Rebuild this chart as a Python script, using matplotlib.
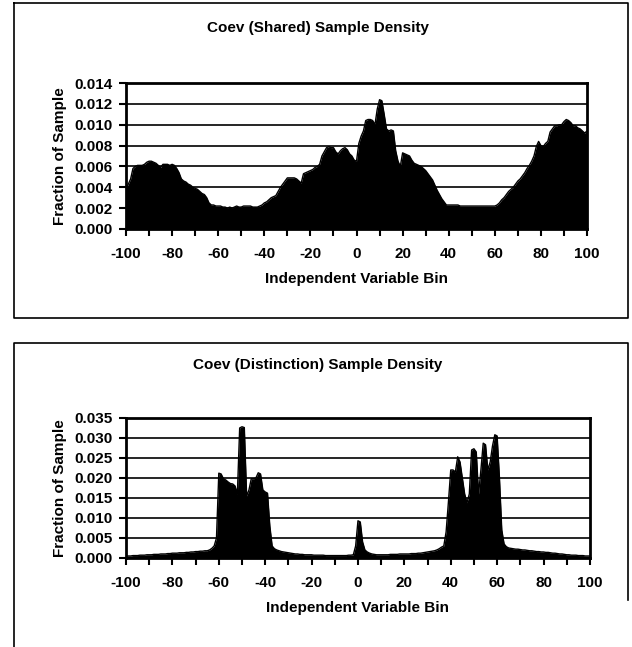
#!/usr/bin/python3
"""Plot the two Coev sample density panels (shared / distinction)."""
import numpy as np
import matplotlib
matplotlib.use("Agg")
import matplotlib.pyplot as plt
from matplotlib.lines import Line2D

# independent variable bins, one per unit
bin_v = np.arange(-100, 101)

# shared sample density, in units of 0.001
shared_v = [
    3.9, 4.3, 4.8, 5.8, 6.0, 6.1, 6.1, 6.1, 6.2, 6.4,          # -100..-91
    6.5, 6.5, 6.4, 6.3, 6.1, 5.9, 6.2, 6.2, 6.2, 6.1,          # -90..-81
    6.2, 6.1, 5.8, 5.4, 4.8, 4.6, 4.5, 4.3, 4.2, 4.0,          # -80..-71
    3.9, 3.8, 3.6, 3.4, 3.3, 3.0, 2.5, 2.3, 2.3, 2.2,          # -70..-61
    2.2, 2.2, 2.1, 2.1, 2.0, 2.1, 2.0, 2.1, 2.2, 2.1,          # -60..-51
    2.1, 2.2, 2.2, 2.2, 2.2, 2.1, 2.1, 2.1, 2.2, 2.3,          # -50..-41
    2.5, 2.6, 2.8, 3.0, 3.1, 3.2, 3.6, 4.0, 4.3, 4.6,          # -40..-31
    4.9, 4.9, 4.9, 4.9, 4.8, 4.6, 4.4, 5.3, 5.4, 5.5,          # -30..-21
    5.6, 5.7, 5.9, 6.0, 6.2, 7.0, 7.4, 7.8, 7.9, 7.8,          # -20..-11
    7.8, 7.4, 7.2, 7.5, 7.7, 7.8, 7.6, 7.2, 7.0, 6.6,          # -10..-1
    6.5, 8.2, 8.9, 9.4, 10.4, 10.5, 10.5, 10.4, 10.0, 11.5,    # 0..9
    12.4, 12.3, 11.0, 9.6, 9.4, 9.5, 9.4, 7.5, 6.5, 6.0,       # 10..19
    7.3, 7.2, 7.1, 7.0, 6.6, 6.3, 6.2, 6.1, 6.0, 5.8,          # 20..29
    5.6, 5.3, 5.0, 4.7, 4.2, 3.7, 3.3, 2.9, 2.6, 2.3,          # 30..39
    2.3, 2.3, 2.3, 2.3, 2.3, 2.2, 2.2, 2.2, 2.2, 2.2,          # 40..49
    2.2, 2.2, 2.2, 2.2, 2.2, 2.2, 2.2, 2.2, 2.2, 2.2,          # 50..59
    2.2, 2.3, 2.5, 2.8, 3.0, 3.3, 3.6, 3.8, 4.0, 4.3,          # 60..69
    4.6, 4.8, 5.1, 5.4, 5.8, 6.1, 6.5, 7.0, 7.9, 8.4,          # 70..79
    8.0, 7.9, 8.2, 8.4, 9.3, 9.6, 9.9, 9.9, 10.0, 10.0,        # 80..89
    10.3, 10.5, 10.4, 10.2, 9.9, 9.9, 9.7, 9.6, 9.4, 9.2,      # 90..99
    9.4,                                                       # 100
]

# distinction sample density, in units of 0.001
distinction_v = [
    0.5, 0.5, 0.5, 0.6, 0.6, 0.6, 0.7, 0.7, 0.7, 0.8,          # -100..-91
    0.8, 0.8, 0.9, 0.9, 0.9, 1.0, 1.0, 1.0, 1.1, 1.1,          # -90..-81
    1.2, 1.2, 1.2, 1.3, 1.3, 1.3, 1.4, 1.4, 1.5, 1.5,          # -80..-71
    1.6, 1.6, 1.7, 1.7, 1.8, 1.8, 2.0, 2.4, 3.0, 5.0,          # -70..-61
    21.2, 21.0, 19.8, 19.5, 19.0, 18.6, 18.5, 18.0, 16.0, 32.5,  # -60..-51
    32.8, 32.6, 15.5, 17.0, 19.8, 19.8, 20.0, 21.3, 21.0, 17.0,  # -50..-41
    16.5, 16.2, 8.0, 3.0, 2.3, 2.0, 1.8, 1.6, 1.5, 1.4,        # -40..-31
    1.3, 1.2, 1.1, 1.0, 1.0, 0.9, 0.9, 0.8, 0.8, 0.8,          # -30..-21
    0.8, 0.7, 0.7, 0.7, 0.7, 0.7, 0.6, 0.6, 0.6, 0.6,          # -20..-11
    0.6, 0.6, 0.6, 0.6, 0.6, 0.6, 0.7, 0.7, 0.8, 3.0,          # -10..-1
    9.3, 9.0, 4.0, 2.0, 1.5, 1.2, 1.0, 0.9, 0.8, 0.8,          # 0..9
    0.8, 0.8, 0.8, 0.8, 0.9, 0.9, 0.9, 0.9, 1.0, 1.0,          # 10..19
    1.0, 1.0, 1.0, 1.1, 1.1, 1.1, 1.2, 1.2, 1.3, 1.4,          # 20..29
    1.5, 1.6, 1.7, 1.8, 2.0, 2.3, 2.7, 3.0, 6.5, 14.0,         # 30..39
    22.0, 22.0, 21.5, 25.3, 24.0, 20.0, 16.0, 13.8, 16.0, 27.0,  # 40..49
    27.3, 26.5, 16.0, 22.0, 28.7, 28.3, 22.0, 24.0, 28.0, 30.8,  # 50..59
    30.5, 20.0, 7.0, 3.5, 2.8, 2.5, 2.4, 2.3, 2.2, 2.2,        # 60..69
    2.1, 2.0, 2.0, 1.9, 1.8, 1.8, 1.7, 1.6, 1.6, 1.5,          # 70..79
    1.5, 1.4, 1.4, 1.3, 1.2, 1.2, 1.1, 1.0, 1.0, 0.9,          # 80..89
    0.8, 0.8, 0.7, 0.7, 0.7, 0.6, 0.6, 0.6, 0.5, 0.5,          # 90..99
    0.5,                                                       # 100
]

x_tick_v = list(range(-100, 101, 10))
x_label_v = [str(t) if t % 20 == 0 else "" for t in x_tick_v]
shared_y_tick_v = [0.000, 0.002, 0.004, 0.006, 0.008, 0.010, 0.012, 0.014]
distinction_y_tick_v = [0.000, 0.005, 0.010, 0.015, 0.020, 0.025, 0.030, 0.035]

FONT = dict(family="Liberation Sans", weight="bold", size=11)


def draw_panel(fig, rect, values, y_tick_v, title, title_y):
    """Draw one Excel-like area chart panel."""
    ax = fig.add_axes(rect)
    y = np.array(values) / 1000.0
    ax.fill_between(bin_v, 0, y, color="black", lw=0)
    ax.plot(bin_v, y, color="black", lw=1)

    ax.set_xlim(-100, 100)
    ax.set_ylim(y_tick_v[0], y_tick_v[-1])
    ax.set_xticks(x_tick_v, x_label_v, **FONT)
    ax.set_yticks(y_tick_v, [f"{t:.3f}" for t in y_tick_v], **FONT)
    ax.tick_params(axis="x", direction="out", length=5, width=1.5, pad=8)
    ax.tick_params(axis="y", direction="out", length=5, width=1.5, pad=5)

    for t in y_tick_v[1:-1]:
        ax.axhline(t, color="black", lw=1.2, zorder=0)

    for side in ax.spines.values():
        side.set_linewidth(2)

    ax.set_xlabel("Independent Variable Bin", labelpad=8, **FONT)
    ax.set_ylabel("Fraction of Sample", labelpad=5, **FONT)
    fig.text(0.503, title_y, title, ha="center", va="center", **FONT)
    return ax


def main():
    """The script's entry point."""
    fig = plt.figure(figsize=(6.32, 6.47), dpi=100)

    draw_panel(fig, [0.1994, 0.6461, 0.7294, 0.2256], shared_v,
               shared_y_tick_v, "Coev (Shared) Sample Density", 0.956)
    draw_panel(fig, [0.1994, 0.1376, 0.7340, 0.2164], distinction_v,
               distinction_y_tick_v, "Coev (Distinction) Sample Density", 0.436)

    # outer chart boxes (figure pixel coords -> fraction)
    def px(x, y):
        return x / 632.0, 1 - y / 647.0

    box_v = [
        [px(14, 3), px(628, 3), px(628, 318), px(14, 318), px(14, 3)],
        [px(628, 600), px(628, 343), px(14, 343), px(14, 647)],
    ]
    for box in box_v:
        xs, ys = zip(*box)
        fig.add_artist(Line2D(xs, ys, color="black", lw=1.2,
                              transform=fig.transFigure))

    fig.savefig("out.png", dpi=100)


if __name__ == "__main__":
    main()
